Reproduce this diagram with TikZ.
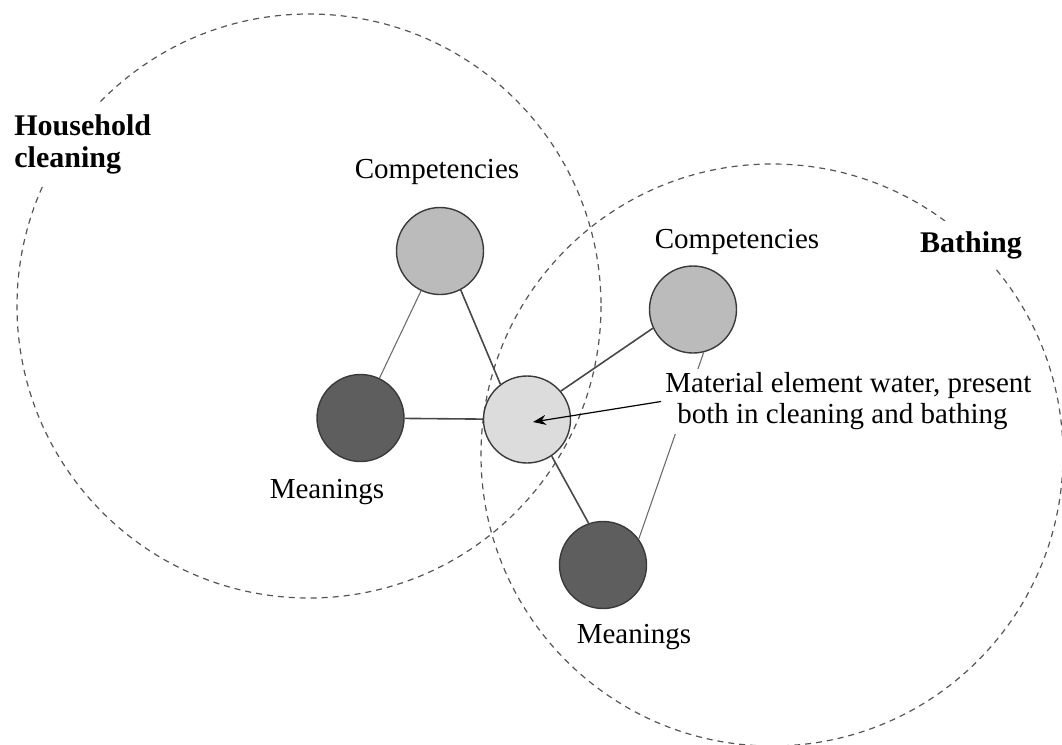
\documentclass[tikz,border=0pt]{standalone}
\usepackage{fontspec}
\setmainfont{Liberation Serif}
\usetikzlibrary{arrows.meta}
\definecolor{compgray}{HTML}{BBBBBB}
\definecolor{meangray}{HTML}{5E5E5E}
\definecolor{watergray}{HTML}{DCDCDC}
\definecolor{rimgray}{HTML}{3A3A3A}
\definecolor{dashgray}{HTML}{555555}
\definecolor{linkgray}{HTML}{484848}
\begin{document}
\begin{tikzpicture}[x=0.5pt,y=-0.5pt,
  practice/.style={draw=dashgray,line width=0.6pt,dash pattern=on 3pt off 2.5pt},
  element/.style={circle,draw=rimgray,line width=0.7pt,minimum size=43.5pt,inner sep=0pt},
  comp/.style={element,fill=compgray},
  mean/.style={element,fill=meangray},
  water/.style={element,fill=watergray},
  link/.style={draw=linkgray,line width=0.8pt},
  thinlink/.style={draw=linkgray!80,line width=0.55pt},
  lbl/.style={font=\fontsize{14.5}{15.5}\selectfont,inner sep=0pt},
  title/.style={font=\bfseries\fontsize{15}{16}\selectfont,fill=white,inner sep=5pt,align=left},
  pointer/.style={draw=black,line width=0.6pt,-{Stealth[length=6.5pt,width=5pt]}}]
\useasboundingbox (0,0) rectangle (1062,745);

% the two practices
\coordinate (cleanC) at (309,306);
\coordinate (bathC) at (772,455);
\draw[practice] (cleanC) circle[radius=292];
\draw[practice] (bathC) circle[radius=291];

% elements of the practices
\node[comp]  (compL) at (440,251) {};
\node[mean]  (meanL) at (360.5,418) {};
\node[water] (water) at (527,419.5) {};
\node[comp]  (compR) at (693,309.5) {};
\node[mean]  (meanR) at (603,565) {};

% links between elements
\draw[thinlink] (compL) -- (meanL);
\draw[link] (compL.-62) -- (water.127);
\draw[link] (meanL) -- (water);
\draw[link] (water.40) -- (compR.205);
\draw[link] (water.-56) -- (meanR.109);
\draw[thinlink] (compR.-76) -- (meanR.36);

% labels
\node[lbl,anchor=base] (compLlbl) at (437,178) {Competencies};
\node[lbl,anchor=base] (meanLlbl) at (327,498) {Meanings};
\node[lbl,anchor=base] (compRlbl) at (737,248) {Competencies};
\node[lbl,anchor=base] (meanRlbl) at (634,643) {Meanings};
\node[title,anchor=west] (clean) at (4,144) {Household\\cleaning};
\node[title,anchor=base] (bath) at (971,252) {Bathing};
\node[lbl,fill=white,inner sep=2pt,align=left,anchor=west] (mat) at (661,401.5)
  {Material element water, present\\\hspace*{6pt}both in cleaning and bathing};
\coordinate (wtip) at (533,422);
\draw[pointer] (mat.west) -- (wtip);
\end{tikzpicture}
\end{document}
